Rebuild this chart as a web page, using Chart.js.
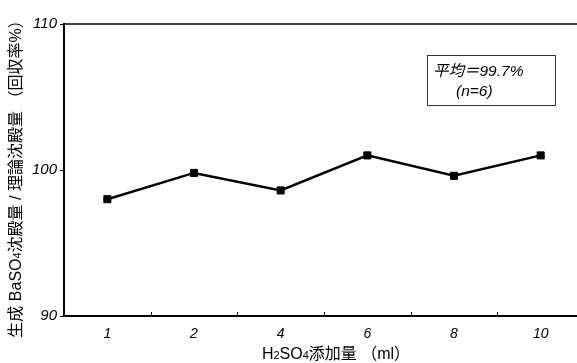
<!DOCTYPE html>
<html>
<head>
<meta charset="utf-8">
<script src="https://cdn.jsdelivr.net/npm/chart.js@4/dist/chart.umd.min.js"></script>
<style>
    html, body { margin: 0; padding: 0; background: #fff; overflow: hidden; }
    canvas { display: block; }
</style>
</head>
<body>
<canvas id="recoveryChart" width="590" height="363"></canvas>
<script>
// H2SO4 added (ml) and recovery (%)
const doses = ['1', '2', '4', '6', '8', '10'];
const recovery = [98.0, 99.8, 98.6, 101.0, 99.6, 101.0];
const yTicks = [90, 100, 110];
const noteLines = ['平均＝99.7%', '(n=6)'];
// axis titles, split so the subscripts can be drawn smaller
const xTitleParts = [['H', 0], ['2', 1], ['SO', 0], ['4', 1], ['添加量 （ml）', 0]];
const yTitleParts = [['生成 BaSO', 0], ['4', 1], ['沈殿量 / 理論沈殿量 （回収率%）', 0]];

const fontFamily = '"Liberation Sans", Arial, "Noto Sans CJK JP", sans-serif';

// draw text parts on one baseline, centred on (cx, cy); sub parts are smaller and lowered
function drawParts(ctx, parts, cx, cy, size) {
    const subSize = Math.round(size * 0.7);
    let total = 0;
    const widths = parts.map(([txt, sub]) => {
        ctx.font = (sub ? subSize : size) + 'px ' + fontFamily;
        const w = ctx.measureText(txt).width;
        total += w;
        return w;
    });
    let x = cx - total / 2;
    ctx.textAlign = 'left';
    ctx.textBaseline = 'alphabetic';
    const base = cy + size * 0.35;
    parts.forEach(([txt, sub], i) => {
        ctx.font = (sub ? subSize : size) + 'px ' + fontFamily;
        ctx.fillText(txt, x, sub ? base + size * 0.05 : base);
        x += widths[i];
    });
}

// Draws top frame line, inward x ticks, axis titles and the note box
const framePlugin = {
    id: 'frame',
    afterDraw(chart) {
        const ctx = chart.ctx;
        const area = chart.chartArea;
        const x = chart.scales.x;
        ctx.save();
        ctx.strokeStyle = '#000';
        ctx.fillStyle = '#000';

        // top border
        ctx.lineWidth = 1.5;
        ctx.beginPath();
        ctx.moveTo(area.left, area.top);
        ctx.lineTo(area.right, area.top);
        ctx.stroke();

        // x ticks between categories, pointing inward
        const step = x.getPixelForValue(1) - x.getPixelForValue(0);
        ctx.lineWidth = 1;
        for (let i = 0; i < doses.length - 1; i++) {
            const px = Math.round(x.getPixelForValue(i) + step / 2) + 0.5;
            ctx.beginPath();
            ctx.moveTo(px, area.bottom);
            ctx.lineTo(px, area.bottom - 4);
            ctx.stroke();
        }

        // axis titles
        drawParts(ctx, xTitleParts, 336, 353, 16);
        ctx.save();
        ctx.translate(15, 175);
        ctx.rotate(-Math.PI / 2);
        drawParts(ctx, yTitleParts, 0, 0, 16);
        ctx.restore();

        // note box
        ctx.lineWidth = 1;
        ctx.strokeStyle = '#333';
        ctx.strokeRect(427.5, 55.5, 128, 50);
        ctx.font = 'italic 15.5px ' + fontFamily;
        ctx.textBaseline = 'middle';
        ctx.textAlign = 'left';
        ctx.fillText(noteLines[0], 433, 72);
        ctx.fillText(noteLines[1], 456, 92);
        ctx.restore();
    }
};

const ctx = document.getElementById('recoveryChart').getContext('2d');
new Chart(ctx, {
    type: 'line',
    data: {
        labels: doses,
        datasets: [{
            data: recovery,
            borderColor: '#000',
            borderWidth: 2.5,
            backgroundColor: '#000',
            pointStyle: 'rect',
            pointRadius: 5,
            pointBorderWidth: 1,
            pointBackgroundColor: '#000',
            tension: 0
        }]
    },
    options: {
        responsive: false,
        animation: false,
        layout: {
            padding: { left: 4, top: 24, right: 3, bottom: 2 }
        },
        plugins: {
            legend: { display: false },
            tooltip: { enabled: false }
        },
        scales: {
            x: {
                type: 'category',
                offset: true,
                grid: { display: false },
                border: { display: true, color: '#000', width: 2 },
                ticks: {
                    color: '#000',
                    padding: 2,
                    font: { family: fontFamily, size: 14, style: 'italic' }
                },
                afterFit(scale) { scale.height = 45; }
            },
            y: {
                min: 90,
                max: 110,
                afterBuildTicks(scale) {
                    scale.ticks = yTicks.map(v => ({ value: v }));
                },
                grid: {
                    display: true,
                    drawOnChartArea: false,
                    drawTicks: true,
                    tickLength: 4,
                    color: '#000'
                },
                border: { display: true, color: '#000', width: 2 },
                ticks: {
                    color: '#000',
                    padding: 3,
                    font: { family: fontFamily, size: 15, style: 'italic' }
                },
                afterFit(scale) { scale.width = 60; }
            }
        }
    },
    plugins: [framePlugin]
});
</script>
</body>
</html>
